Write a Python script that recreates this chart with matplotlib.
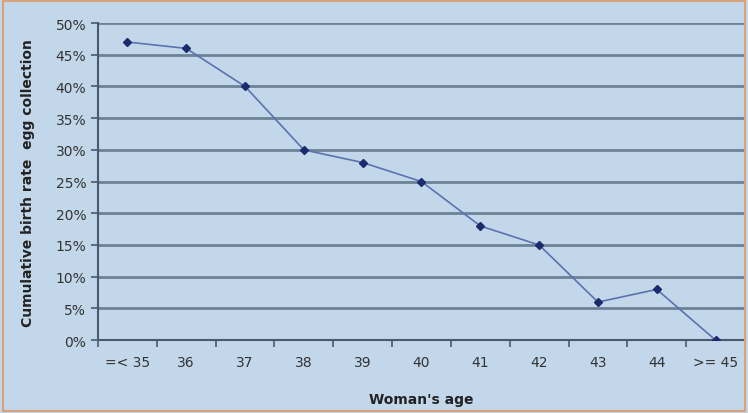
import matplotlib
matplotlib.use('Agg')
import matplotlib.pyplot as plt
from matplotlib.patches import Rectangle
from matplotlib.ticker import FuncFormatter

ages = ['=< 35', '36', '37', '38', '39', '40', '41', '42', '43', '44', '>= 45']
birth_rate = [47, 46, 40, 30, 28, 25, 18, 15, 6, 8, 0]

bg = '#c3d7ea'
grid_col = '#6d8296'

fig = plt.figure(figsize=(7.48, 4.14), dpi=100, facecolor=bg)
ax = fig.add_axes([0.131, 0.176, 0.865, 0.766])
ax.set_facecolor(bg)

# outer frame of the chart
fig.patches.append(Rectangle((0.004, 0.004), 0.992, 0.990, transform=fig.transFigure,
                             fill=False, edgecolor='#d9a27a', linewidth=1.5))

x = list(range(len(ages)))
ax.plot(x, birth_rate, color='#5b72b0', linewidth=1.2, marker='D', markersize=4,
        markerfacecolor='#1c2a6e', markeredgecolor='#1c2a6e', zorder=3)

ax.set_xlim(-0.5, len(ages) - 0.5)
ax.set_ylim(0, 50)
ax.set_yticks(range(0, 51, 5))
ax.yaxis.set_major_formatter(FuncFormatter(lambda v, p: f'{int(v)}%'))
ax.grid(axis='y', color=grid_col, linewidth=2)
ax.set_axisbelow(True)

# category labels centred, ticks between categories
ax.set_xticks(x)
ax.set_xticklabels(ages)
ax.set_xticks([i + 0.5 for i in range(-1, len(ages))], minor=True)
ax.tick_params(axis='x', which='major', length=0, pad=11)
ax.tick_params(axis='x', which='minor', length=5, color='#4a5a6a', width=1.2)
ax.tick_params(axis='y', length=5, color='#4a5a6a', width=1.2)
ax.tick_params(labelsize=10, labelcolor='#333333')

for s in ['top', 'right']:
    ax.spines[s].set_visible(False)
for s in ['left', 'bottom']:
    ax.spines[s].set_color('#4a5a6a')
    ax.spines[s].set_linewidth(1.5)

ax.set_ylabel('Cumulative birth rate  egg collection', fontsize=10, fontweight='bold',
              color='#222222', labelpad=15)
ax.set_xlabel("Woman's age", fontsize=10, fontweight='bold', color='#222222', labelpad=16)

plt.savefig('out.png', dpi=100, facecolor=bg)
plt.close()
